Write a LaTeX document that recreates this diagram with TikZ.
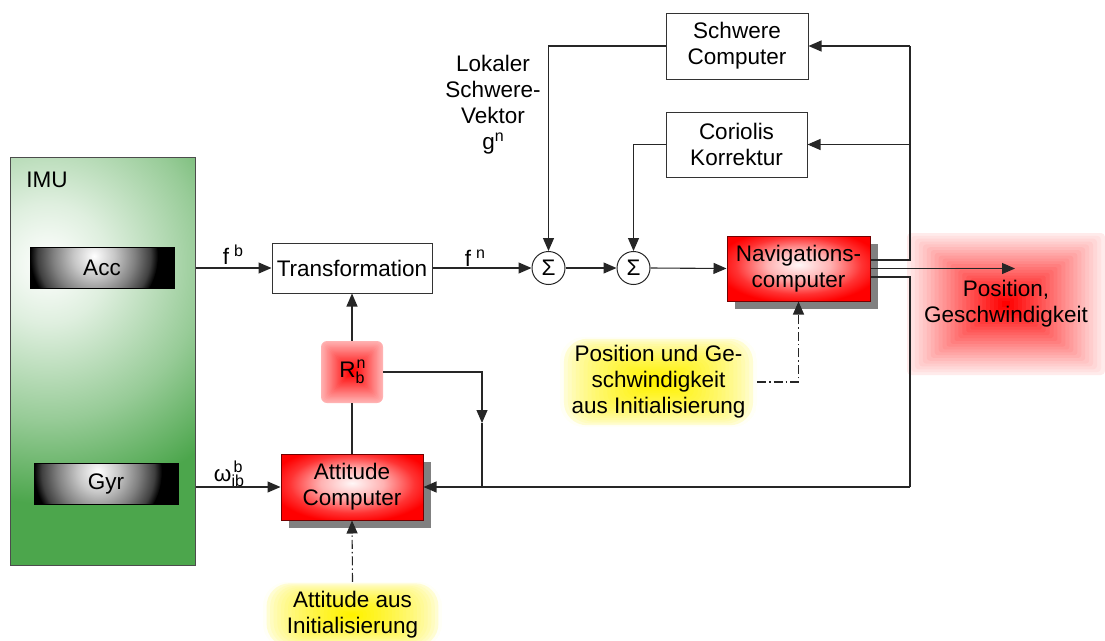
\documentclass[tikz,border=0pt]{standalone}
\usepackage{fontspec}
\setmainfont{Liberation Sans}
\usetikzlibrary{arrows.meta,shadows,calc}
\definecolor{imugreen}{RGB}{76,166,76}
\pgfdeclareradialshading{shCircImu}{\pgfpointorigin}{color(0bp)=(white); color(5bp)=(imugreen!18!white); color(13bp)=(imugreen!58!white); color(20bp)=(imugreen); color(25bp)=(imugreen); color(50bp)=(imugreen)}
\pgfdeclareradialshading{shCircSens}{\pgfpointorigin}{color(0bp)=(white); color(8bp)=(black!22); color(16bp)=(black!50); color(22bp)=(black!75); color(25bp)=(black); color(50bp)=(black)}
\pgfdeclareradialshading{shRedBox}{\pgfpoint{0bp}{3bp}}{color(0bp)=(red!3!white); color(11bp)=(red!30!white); color(22bp)=(red!80!white); color(29bp)=(red); color(100bp)=(red)}
\newcommand\glowfill[4]{%
  \foreach \k in {0,...,24}{%
    \pgfmathsetmacro\glf{0.5*\k/25}%
    \pgfmathsetmacro\glc{#2+(100-#2)*(\k/24)^#4}%
    \pgfmathsetmacro\glr{#3*(1-2*\glf)}%
    \fill[#1!\glc!white, rounded corners=\glr pt]
      ($(path picture bounding box.south west)!\glf!(path picture bounding box.north east)$) rectangle
      ($(path picture bounding box.north east)!\glf!(path picture bounding box.south west)$);
  }}
\newcommand\scfont{\fontsize{16}{16}\selectfont}
\newcommand\supx[1]{\raisebox{8pt}{\scfont #1}}
\tikzset{
  arr/.style={-{Triangle[length=13pt,width=11pt]}},
  ln/.style={draw=black!85, line width=1.1pt},
  dd/.style={dash pattern=on 9pt off 3pt on 1.5pt off 3pt},
  plainbox/.style={draw=black!80, line width=1pt, fill=white, minimum width=142, minimum height=66, inner sep=2pt},
  redbx/.style={draw=red!45!black, line width=1pt, shade, shading=shRedBox, minimum width=142, minimum height=66, inner sep=2pt,
    drop shadow={shadow xshift=8pt, shadow yshift=-8pt, fill=gray, opacity=1}},
  sensor/.style={draw=black, line width=0.8pt, minimum width=144, minimum height=41, inner sep=0pt,
    path picture={\fill[black] (path picture bounding box.south west) rectangle (path picture bounding box.north east);
      \shade[shading=shCircSens] ($(path picture bounding box.center)+(-8,-12)$) circle (64pt);}},
  glowr/.style={inner sep=0pt, path picture={\glowfill{red}{#1}{4}{1}}},
  glowy/.style={inner sep=0pt, rounded corners=24pt, path picture={\glowfill{yellow}{3}{24}{0.6}}},
  sumnode/.style={circle, draw=black!85, line width=1pt, fill=white, minimum size=33, inner sep=0pt},
}
\begin{document}
\begin{tikzpicture}[x=1pt, y=-1pt, font=\fontsize{22.5}{26}\selectfont, every node/.append style={align=center}]
\useasboundingbox (0,0) rectangle (1105,640);
% glows
\node[glowr=8, minimum width=198, minimum height=142] (pos) at (1006,304) {Position,\\Geschwindigkeit};
\node[glowy, minimum width=197, minimum height=90] (posinit) at (658.5,382) {Position und Ge-\\schwindigkeit\\aus Initialisierung};
\node[glowy, minimum width=179, minimum height=66] (attinit) at (352.5,615) {Attitude aus\\Initialisierung};
% IMU
\node[draw=black!70, line width=0.9pt, minimum width=185, minimum height=408, anchor=north west, inner sep=0pt,
  path picture={\fill[imugreen] (path picture bounding box.south west) rectangle (path picture bounding box.north east);
    \shade[shading=shCircImu] ($(path picture bounding box.north west)+(37,106)$) circle (300pt);}] (imu) at (10,157) {};
\node (imulabel) at (47,180) {IMU};
\node[sensor] (acc) at (102,268) {Acc};
\node[sensor] (gyr) at (106,484) {Gyr};
% blocks
\node[plainbox, minimum width=160, minimum height=50] (trans) at (352,268) {Transformation};
\node[sumnode] (s1) at (548.5,268) {Σ};
\node[sumnode] (s2) at (633.5,268) {Σ};
\node[redbx, minimum width=143, minimum height=65] (nav) at (798.5,268.5) {Navigations-\\computer};
\node[plainbox] (schw) at (737,46) {Schwere\\Computer};
\node[plainbox, minimum width=141, minimum height=65] (cor) at (736.5,144.5) {Coriolis\\Korrektur};
\node[redbx] (att) at (352,487) {Attitude\\Computer};
\node[glowr=30, minimum width=62, minimum height=62, rounded corners=6pt] (rbn) at (352,372) {R\rlap{\raisebox{9pt}{\scfont\hspace{1pt}n}}\raisebox{-6pt}{\scfont b}};
\node (lok) at (493,105) {Lokaler\\Schwere-\\Vektor\\g\supx{n}};
% labels
\node[anchor=base, inner sep=0pt] (fb) at (233,264) {f\hspace{5pt}\supx{b}};
\node[anchor=base, inner sep=0pt] (fn) at (475,266) {f\hspace{5pt}\supx{n}};
\node[inner sep=0pt] (om) at (229,474) {ω\rlap{\raisebox{9pt}{\scfont\hspace{2pt}b}}\raisebox{-5pt}{\scfont ib}};
% coordinates
\coordinate (nvu) at ($(nav.east)+(0,-8.5)$);
\coordinate (nvd) at ($(nav.east)+(0,8.5)$);
\coordinate (tr) at (910,46);
\coordinate (br) at (910,487);
\coordinate (pa) at (1015,268.5);
\coordinate (rj) at (482,423);
\coordinate (rjb) at (482,487);
% connectors
\draw[ln,arr] (imu.east |- acc.east) -- (trans.west);
\draw[ln,arr] (imu.east |- att.west) -- (att.west);
\draw[ln,arr] (trans.east) -- (s1.west);
\draw[ln,arr] (s1.east) -- (s2.west);
\draw[ln,arr] (s2.east) -- (nav.west);
\draw[ln,arr] (schw.west) -| (s1.north);
\draw[ln,arr] (cor.west) -| (s2.north);
\draw[ln] (nvu) -| (tr);
\draw[ln,arr] (tr) -- (schw.east);
\draw[ln,arr] (tr |- cor.east) -- (cor.east);
\draw[ln,arr] (nav.east) -- (pa);
\draw[ln] (nvd) -| (br);
\draw[ln,arr] (br) -- (att.east);
\draw[ln,arr] (rbn.north) -- (trans.south);
\draw[ln] (att.north) -- (rbn.south);
\draw[ln,arr] (rbn.east) -| (rj);
\draw[ln] (rj) -- (rjb);
\draw[ln,dd,arr] (attinit.north) -- (att.south);
\draw[ln,dd,arr] (posinit.east) -| (nav.south);
\end{tikzpicture}
\end{document}
